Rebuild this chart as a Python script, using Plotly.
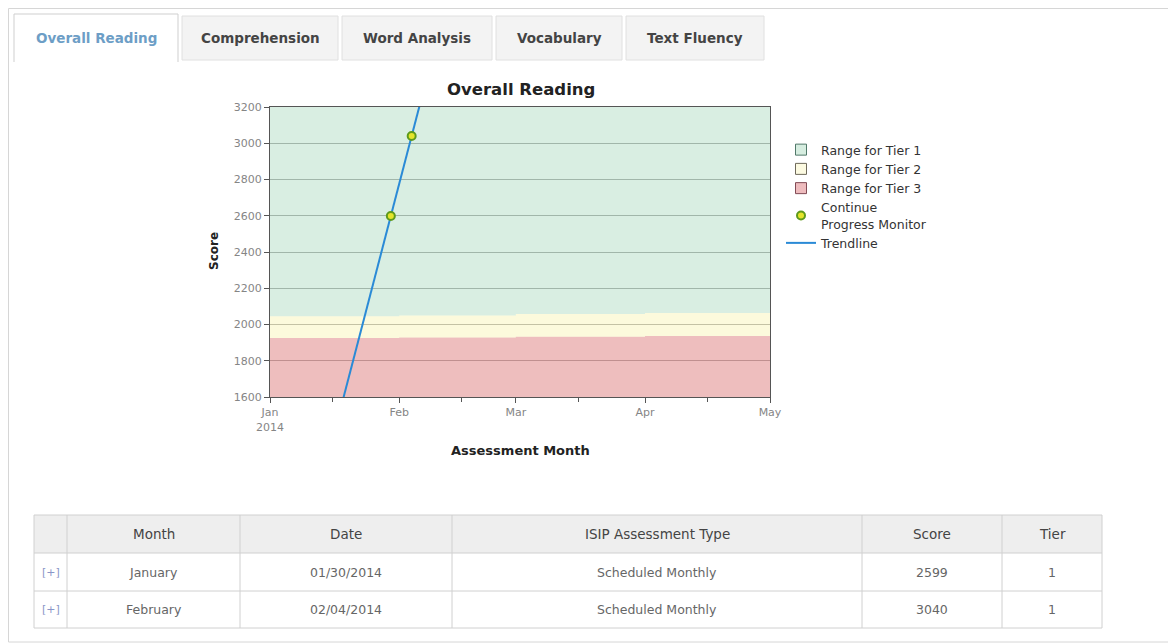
import numpy as np
import pandas as pd
import plotly.graph_objects as go

# the page body adds an 8px margin, so the figure is sized to the remaining viewport
OFF = 8
W, H = 1176 - OFF, 644 - OFF

# ---------------- data ----------------
tabs = ["Overall Reading", "Comprehension", "Word Analysis", "Vocabulary", "Text Fluency"]

band_dates = ["2014-01-01", "2014-02-01", "2014-03-01", "2014-04-01", "2014-05-01"]
tier3_top = [1925, 1928, 1933, 1937, 1937]
tier2_top = [2045, 2050, 2058, 2063, 2063]
tier1_top = [3200, 3200, 3200, 3200, 3200]

x_tick_vals = ["2014-01-01", "2014-02-01", "2014-03-01", "2014-04-01", "2014-05-01"]
x_tick_text = ["Jan<br>2014", "Feb", "Mar", "Apr", "May"]

assess_dates = ["2014-01-30", "2014-02-04"]
assess_scores = [2599, 3040]

tbl_header = ["", "Month", "Date", "ISIP Assessment Type", "Score", "Tier"]
tbl_expand = ["[+]", "[+]"]
tbl_months = ["January", "February"]
tbl_dates = ["01/30/2014", "02/04/2014"]
tbl_types = ["Scheduled Monthly", "Scheduled Monthly"]
tbl_scores = [2599, 3040]
tbl_tiers = [1, 1]


def fx(p):
    return (p - OFF) / W


def fy(p):
    return 1 - (p - OFF) / H


FONT = "DejaVu Sans, Verdana, sans-serif"

fig = go.Figure()

# ---------------- tier bands ----------------
fig.add_trace(go.Scatter(x=band_dates, y=tier3_top, mode="none", fill="tozeroy",
                         line_shape="hv", fillcolor="rgba(206,69,69,0.35)",
                         showlegend=False, hoverinfo="skip"))
fig.add_trace(go.Scatter(x=band_dates, y=tier2_top, mode="none", fill="tonexty",
                         line_shape="hv", fillcolor="rgba(240,230,80,0.2)",
                         showlegend=False, hoverinfo="skip"))
fig.add_trace(go.Scatter(x=band_dates, y=tier1_top, mode="none", fill="tonexty",
                         line_shape="hv", fillcolor="rgba(65,170,110,0.2)",
                         showlegend=False, hoverinfo="skip"))

# legend entries for bands
for rank, (name, fc, lc) in enumerate([
    ("Range for Tier 1", "rgb(214,237,224)", "rgb(80,120,105)"),
    ("Range for Tier 2", "rgb(252,250,225)", "rgb(110,105,90)"),
    ("Range for Tier 3", "rgb(238,188,190)", "rgb(130,75,85)"),
], start=1):
    fig.add_trace(go.Scatter(x=[None], y=[None], mode="markers", name=name,
                             legendrank=rank,
                             marker=dict(symbol="square", size=11, color=fc,
                                         line=dict(color=lc, width=1))))

# ---------------- trendline (least squares through assessments) ----------------
d = pd.to_datetime(assess_dates)
t0 = pd.Timestamp(band_dates[0])
days = np.array([(v - t0).days for v in d], dtype=float)
slope, icpt = np.polyfit(days, np.array(assess_scores, dtype=float), 1)
end_days = np.array([0.0, (pd.Timestamp(band_dates[-1]) - t0).days])
trend_x = [t0 + pd.Timedelta(days=v) for v in end_days]
trend_y = slope * end_days + icpt

fig.add_trace(go.Scatter(x=trend_x, y=trend_y, mode="lines",
                         line=dict(color="#2a8ad6", width=2), name="Trendline",
                         legendrank=5, hoverinfo="skip"))
fig.add_trace(go.Scatter(x=assess_dates, y=assess_scores, mode="markers",
                         name="Continue<br>Progress Monitor", legendrank=4,
                         marker=dict(size=8, color="#e4e42a",
                                     line=dict(color="#5e9a1c", width=2))))

# ---------------- axes ----------------
fig.update_xaxes(type="date", range=[band_dates[0], band_dates[-1]],
                 domain=[fx(270), fx(770)], tickvals=x_tick_vals, ticktext=x_tick_text,
                 ticks="outside", ticklen=5, tickcolor="#555", showline=True,
                 linecolor="#555", linewidth=1, mirror=True, showgrid=False, zeroline=False,
                 tickfont=dict(family=FONT, size=11, color="#858585"),
                 minor=dict(ticks="outside", ticklen=4, tick0="2014-01-16", dtick="M1",
                            tickcolor="#555", showgrid=False))
fig.update_yaxes(range=[1600, 3200], domain=[fy(397), fy(107)], dtick=200,
                 ticks="outside", ticklen=5, tickcolor="#555", showline=True,
                 linecolor="#555", linewidth=1, mirror=True, showgrid=True,
                 gridcolor="rgb(185,185,185)", gridwidth=1, zeroline=False,
                 tickfont=dict(family=FONT, size=11, color="#858585"))

shapes = []
annotations = []

# ---------------- page chrome: outer box & tabs ----------------
shapes.append(dict(type="rect", xref="paper", yref="paper", x0=fx(8.5), x1=fx(1172),
                   y0=fy(642), y1=fy(8.5), line=dict(color="#d6d6d6", width=1),
                   fillcolor="rgba(0,0,0,0)", layer="below"))
tab_x = [(14, 178), (182, 338), (342, 492), (496, 622), (626, 764)]
for i, (name, (a, b)) in enumerate(zip(tabs, tab_x)):
    if i == 0:
        shapes.append(dict(type="path", xref="paper", yref="paper",
                           path=f"M {fx(a)},{fy(62)} L {fx(a)},{fy(14)} L {fx(b)},{fy(14)} L {fx(b)},{fy(62)}",
                           line=dict(color="#cfcfcf", width=1)))
        col = "#6d9ec6"
    else:
        shapes.append(dict(type="path", xref="paper", yref="paper",
                           path=f"M {fx(a)},{fy(60)} L {fx(a)},{fy(16)} L {fx(b)},{fy(16)} L {fx(b)},{fy(60)} Z",
                           line=dict(color="#e0e0e0", width=1), fillcolor="#f3f3f3"))
        col = "#444"
    annotations.append(dict(text=f"<b>{name}</b>", x=fx((a + b) / 2), y=fy(38),
                            xref="paper", yref="paper", showarrow=False,
                            xanchor="center", yanchor="middle",
                            font=dict(family=FONT, size=13.5, color=col)))

# ---------------- chart titles ----------------
annotations.append(dict(text="<b>Overall Reading</b>", x=fx(521), y=fy(89), xref="paper",
                        yref="paper", showarrow=False, xanchor="center", yanchor="middle",
                        font=dict(family=FONT, size=16.5, color="#222")))
annotations.append(dict(text="<b>Score</b>", x=fx(214), y=fy(251), xref="paper",
                        yref="paper", showarrow=False, textangle=-90, xanchor="center",
                        yanchor="middle", font=dict(family=FONT, size=12, color="#222")))
annotations.append(dict(text="<b>Assessment Month</b>", x=fx(520), y=fy(450), xref="paper",
                        yref="paper", showarrow=False, xanchor="center", yanchor="middle",
                        font=dict(family=FONT, size=13, color="#222")))

# ---------------- table (drawn with shapes + text) ----------------
col_edges = [34, 67, 240, 452, 862, 1002, 1102]
row_edges = [515, 553, 591, 628]
shapes.append(dict(type="rect", xref="paper", yref="paper", x0=fx(col_edges[0]),
                   x1=fx(col_edges[-1]), y0=fy(row_edges[1]), y1=fy(row_edges[0]),
                   fillcolor="#eeeeee", line=dict(width=0), layer="below"))
for xe in col_edges:
    shapes.append(dict(type="line", xref="paper", yref="paper", x0=fx(xe), x1=fx(xe),
                       y0=fy(row_edges[-1]), y1=fy(row_edges[0]),
                       line=dict(color="#d0d0d0", width=1)))
for ye in row_edges:
    shapes.append(dict(type="line", xref="paper", yref="paper", x0=fx(col_edges[0]),
                       x1=fx(col_edges[-1]), y0=fy(ye), y1=fy(ye),
                       line=dict(color="#d0d0d0", width=1)))

columns = [tbl_expand, tbl_months, tbl_dates, tbl_types, tbl_scores, tbl_tiers]
for ci, head in enumerate(tbl_header):
    cx = (col_edges[ci] + col_edges[ci + 1]) / 2
    if head:
        annotations.append(dict(text=head, x=fx(cx), y=fy((row_edges[0] + row_edges[1]) / 2),
                                xref="paper", yref="paper", showarrow=False,
                                xanchor="center", yanchor="middle",
                                font=dict(family=FONT, size=13.5, color="#444")))
    for ri, val in enumerate(columns[ci]):
        annotations.append(dict(text=str(val), x=fx(cx),
                                y=fy((row_edges[ri + 1] + row_edges[ri + 2]) / 2),
                                xref="paper", yref="paper", showarrow=False,
                                xanchor="center", yanchor="middle",
                                font=dict(family=FONT, size=12.5 if ci else 11,
                                          color="#8a96c8" if ci == 0 else "#666")))

fig.update_layout(
    width=W, height=H, autosize=False,
    margin=dict(l=0, r=0, t=0, b=0, pad=0, autoexpand=False),
    paper_bgcolor="white", plot_bgcolor="white",
    shapes=shapes, annotations=annotations,
    legend=dict(x=fx(781), y=fy(135), xanchor="left", yanchor="top",
                font=dict(family=FONT, size=12.5, color="#333"), traceorder="normal",
                bgcolor="rgba(0,0,0,0)", tracegroupgap=0, itemwidth=30),
    showlegend=True,
)

fig.write_html("out.html")
